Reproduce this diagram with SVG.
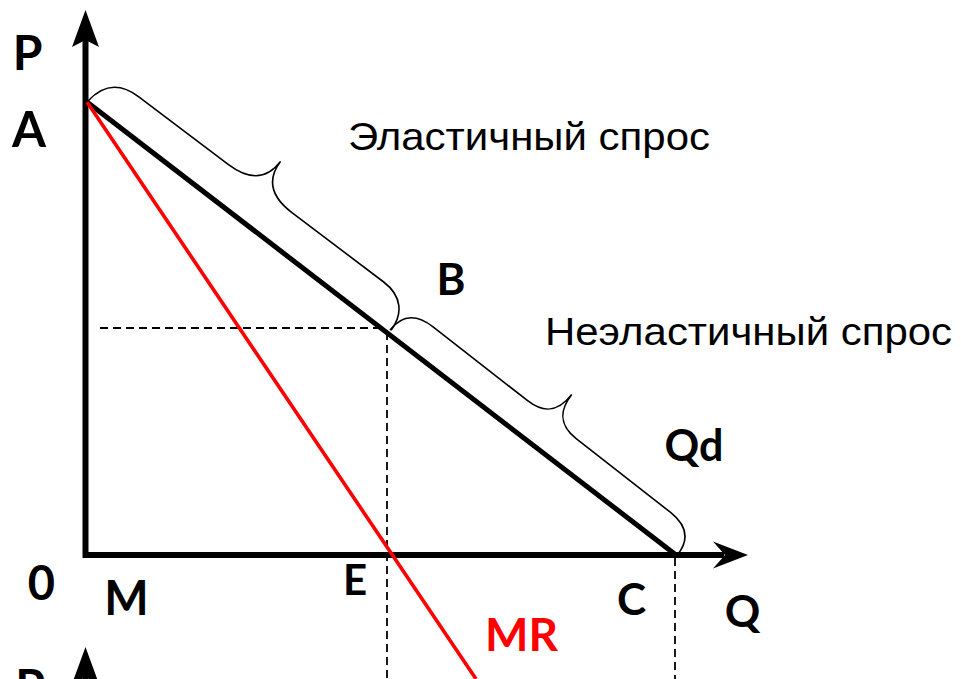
<svg xmlns="http://www.w3.org/2000/svg" width="961" height="679" viewBox="0 0 961 679">
<style>
.lbl{font-family:Lato,"Open Sans","Liberation Sans",sans-serif;font-weight:bold;fill:#000;text-anchor:middle}
.txt{font-family:"Liberation Sans",Arial,sans-serif;font-size:39px;fill:#000}
.dash{stroke:#000;stroke-width:1.8;stroke-dasharray:8,5;fill:none}
.brace{stroke:#000;stroke-width:1.6;fill:none}
</style>
<rect width="961" height="679" fill="#fff"/>
<g id="axes">
<polyline points="85.5,40 85.5,555 724,555" fill="none" stroke="#000" stroke-width="6"/>
<polygon points="85.5,10 99,47 85.5,40 72,47" fill="#000"/>
<polygon points="748,555 713,541.5 725,555 713,568.5" fill="#000"/>
<line x1="85.5" y1="670" x2="85.5" y2="679" stroke="#000" stroke-width="6"/>
<polygon points="85.5,647 99,684 85.5,677 72,684" fill="#000"/>
</g>
<g id="connectors">
<line class="dash" x1="100" y1="328" x2="384" y2="328"/>
<line class="dash" x1="387" y1="332" x2="387" y2="679"/>
<line class="dash" x1="675" y1="558" x2="675" y2="679"/>
<line id="demand" x1="87" y1="102" x2="676" y2="555" stroke="#000" stroke-width="5"/>
<line id="mr" x1="87" y1="102" x2="476" y2="679" stroke="#f00" stroke-width="3.6"/>
<path id="brace1" class="brace" transform="translate(88,101) rotate(37.1)" d="M0,0 C2,-22 14,-34 38,-34 L150,-34 C175,-34 190,-44 190,-68 C190,-44 205,-34 230,-34 L345,-34 C368,-34 380,-20 380,0"/>
<path id="brace2" class="brace" transform="translate(390,330) rotate(38)" d="M0,0 C0,-18 10,-29 32,-29 L152,-29 C172,-29 183,-38 183,-61 C183,-38 194,-29 214,-29 L333,-29 C355,-29 365,-18 365,0"/>
</g>
<g id="labels">
<text class="lbl" x="27.5" y="70" font-size="48">P</text>
<text class="lbl" x="29" y="147" font-size="49">A</text>
<text class="lbl" x="451" y="295" font-size="44">B</text>
<text class="lbl" x="694" y="461" font-size="43">Qd</text>
<text class="lbl" x="41.5" y="600" font-size="47">0</text>
<text class="lbl" x="126.5" y="615" font-size="47">M</text>
<text class="lbl" x="355" y="595" font-size="42">E</text>
<text class="lbl" x="631.5" y="615" font-size="44">C</text>
<text class="lbl" x="742.5" y="627" font-size="44">Q</text>
<text class="lbl" x="521.5" y="651" font-size="46" style="fill:#f00">MR</text>
<text class="lbl" x="30" y="704" font-size="48">P</text>
</g>
<g id="texts">
<text class="txt" x="348" y="150" textLength="362" lengthAdjust="spacingAndGlyphs">Эластичный спрос</text>
<text class="txt" x="545" y="345" textLength="407" lengthAdjust="spacingAndGlyphs">Неэластичный спрос</text>
</g>
</svg>
